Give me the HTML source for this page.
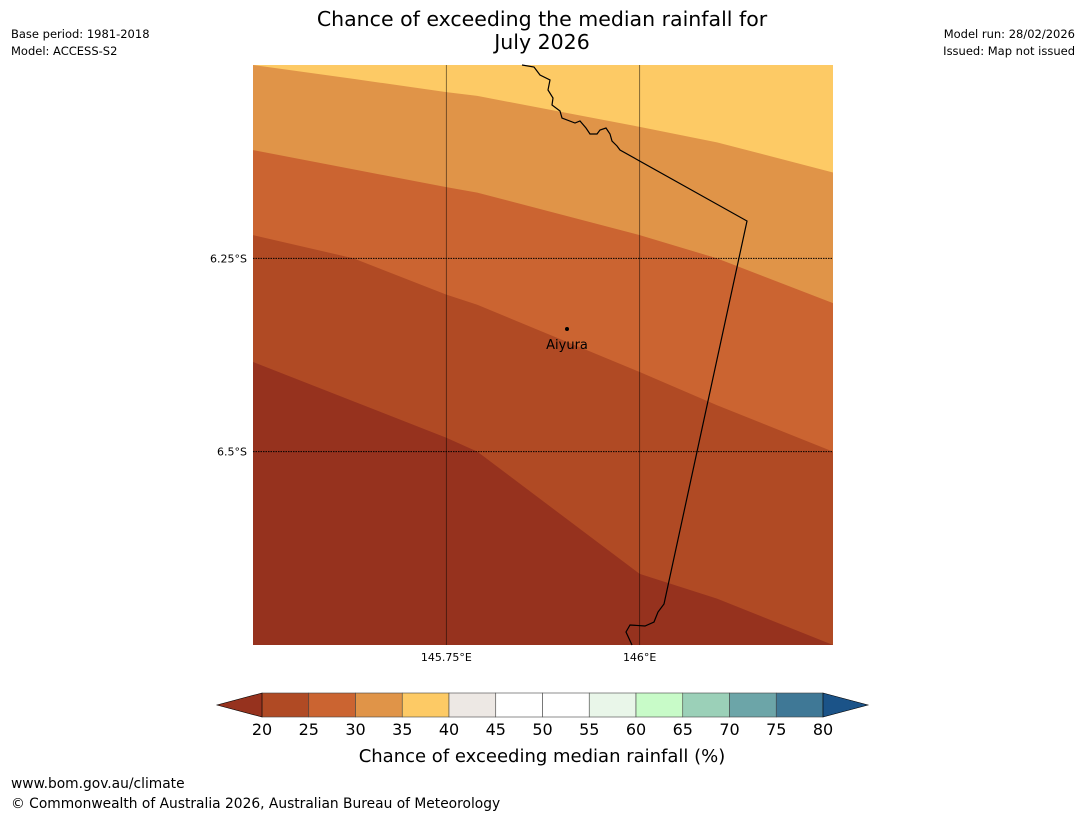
<!DOCTYPE html>
<html><head><meta charset="utf-8"><style>
body{margin:0;background:#fff;width:1085px;height:816px;overflow:hidden;font-family:"Liberation Sans","DejaVu Sans",sans-serif}
</style></head><body>
<svg width="1085" height="816" xmlns="http://www.w3.org/2000/svg" font-family="DejaVu Sans, Liberation Sans, sans-serif">
<text x="542" y="26" font-size="20.5" text-anchor="middle">Chance of exceeding the median rainfall for</text>
<text x="542" y="49" font-size="20.5" text-anchor="middle">July 2026</text>
<text x="11" y="38" font-size="11.5">Base period: 1981-2018</text>
<text x="11" y="55" font-size="11.5">Model: ACCESS-S2</text>
<text x="1075" y="38" font-size="11.5" text-anchor="end">Model run: 28/02/2026</text>
<text x="1075" y="55" font-size="11.5" text-anchor="end">Issued: Map not issued</text>
<g id="map"></g>
<g id="cbar"></g>
<text x="542" y="762" font-size="18" text-anchor="middle">Chance of exceeding median rainfall (%)</text>
<text x="11" y="788" font-size="13.8">www.bom.gov.au/climate</text>
<text x="11" y="808" font-size="13.8">© Commonwealth of Australia 2026, Australian Bureau of Meteorology</text>
</svg>
<script>
const NS="http://www.w3.org/2000/svg";
const lonMin=145.5, lonMax=146.25, latMin=-6.75, latMax=-6.0;
const X0=253,X1=833,Y0=65,Y1=645;
const lx=lon=>X0+(lon-lonMin)/(lonMax-lonMin)*(X1-X0);
const ly=lat=>Y0+(latMax-lat)/(latMax-latMin)*(Y1-Y0);
// contour boundary lons (sample points) and lats
const bLons=[145.5,145.63,145.75,145.79,146.0,146.1,146.25];
const bound40=[-6.0,-6.018,-6.035,-6.04,-6.08,-6.10,-6.139];
const bound35=[-6.11,-6.135,-6.158,-6.165,-6.22,-6.25,-6.308];
const bound30=[-6.22,-6.25,-6.297,-6.31,-6.397,-6.44,-6.50];
const bound25=[-6.384,-6.435,-6.482,-6.5,-6.658,-6.69,-6.75];
const bandColors=["#fdca65","#e09448","#cb6431","#b04a24","#96321e"];
const bounds=[bound40,bound35,bound30,bound25];
const map=document.getElementById('map');
function el(t,a,p){const e=document.createElementNS(NS,t);for(const k in a)e.setAttribute(k,a[k]);(p||map).appendChild(e);return e;}
const bg=el('rect',{x:X0,y:Y0,width:X1-X0,height:Y1-Y0,fill:bandColors[4]});


for(let i=bounds.length-1;i>=0;i--){
  let pts=`${X0},${Y0} `+bLons.map((lo,j)=>`${lx(lo)},${Math.min(Y1,ly(bounds[i][j]))}`).join(' ')+` ${X1},${Y0}`;
  const p=el('polygon',{points:pts,fill:bandColors[i]});
  
  
}
const gLons=[145.75,146.0], gLonLab=["145.75°E","146°E"];
const gLats=[-6.25,-6.5], gLatLab=["6.25°S","6.5°S"];
gLons.forEach((g,i)=>{
  const l=el('line',{x1:lx(g),x2:lx(g),y1:Y0,y2:Y1,stroke:'#000','stroke-width':0.8,'stroke-opacity':0.6});
  
  
  const t=el('text',{x:lx(g),y:Y1+16,'font-size':11,'text-anchor':'middle'});t.textContent=gLonLab[i];
  
  
});
gLats.forEach((g,i)=>{
  const l=el('line',{x1:X0,x2:X1,y1:ly(g),y2:ly(g),stroke:'#000','stroke-width':1,'stroke-dasharray':'1.5,1'});
  
  
  const t=el('text',{x:X0-6,y:ly(g)+4,'font-size':11,'text-anchor':'end'});t.textContent=gLatLab[i];
  
  
});
const border=el('path',{d:"M522,65 L534,67 L540,75 L550,80 L548,90 L553,98 L552,105 L560,111 L562,118 L575,123 L580,121 L586,128 L590,134 L597,134 L600,130 L606,128 L610,134 L612,141 L617,146 L620,150 L747,221 L664,604 L658,612 L654,622 L645,626 L630,625 L626,632 L632,645",fill:'none',stroke:'#000','stroke-width':1.2});


const dot=el('circle',{cx:567,cy:329,r:2,fill:'#000'});


const tt=el('text',{x:567,y:349,'font-size':13,'text-anchor':'middle'});tt.textContent='Aiyura';


const cbLevels=[20,25,30,35,40,45,50,55,60,65,70,75,80];
const cbColors=["#b04a24","#cb6431","#e09448","#fdca65","#ede8e4","#ffffff","#ffffff","#e9f6e9","#c8fbc8","#9bd0b8","#6ca5a8","#3f7896"];
const cb=document.getElementById('cbar');
const CX0=262,CX1=823,CY0=693,CY1=717;
const cx=v=>CX0+(v-20)/60*(CX1-CX0);
for(let i=0;i<cbColors.length;i++){
  const r=el('rect',{x:cx(cbLevels[i]),y:CY0,width:cx(cbLevels[i+1])-cx(cbLevels[i]),height:CY1-CY0,fill:cbColors[i],stroke:'#444','stroke-width':0.6},cb);
  
  
}
const lo=el('polygon',{points:`${CX0},${CY0} 217,${(CY0+CY1)/2} ${CX0},${CY1}`,fill:'#96321e',stroke:'#000','stroke-width':0.6},cb);


const hi=el('polygon',{points:`${CX1},${CY0} 868,${(CY0+CY1)/2} ${CX1},${CY1}`,fill:'#1b5388',stroke:'#000','stroke-width':0.6},cb);


cbLevels.forEach(v=>{
  const t=el('text',{x:cx(v),y:735,'font-size':16,'text-anchor':'middle'},cb);t.textContent=v;
  
  
});
</script>
</body></html>
